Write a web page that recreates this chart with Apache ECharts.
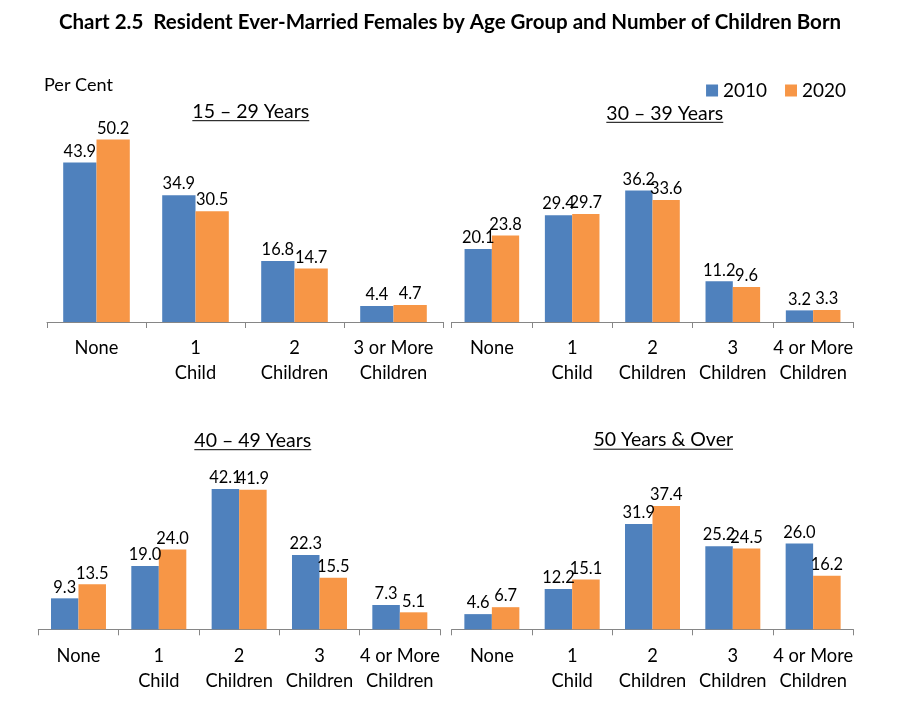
<!DOCTYPE html>
<html><head><meta charset="utf-8">
<script src="https://cdn.jsdelivr.net/npm/echarts@6/dist/echarts.min.js"></script>
<style>html,body{margin:0;padding:0;background:#fff}#c{width:904px;height:706px}</style>
</head><body><div id="c"></div>
<script>
// ---- data ----
const years = ['2010', '2020'];
const cat4 = ['None', '1\nChild', '2\nChildren', '3 or More\nChildren'];
const cat5 = ['None', '1\nChild', '2\nChildren', '3\nChildren', '4 or More\nChildren'];
const panelTitles = ['15 – 29 Years', '30 – 39 Years', '40 – 49 Years', '50 Years & Over'];
const a15_2010 = [43.9, 34.9, 16.8, 4.4];
const a15_2020 = [50.2, 30.5, 14.7, 4.7];
const a30_2010 = [20.1, 29.4, 36.2, 11.2, 3.2];
const a30_2020 = [23.8, 29.7, 33.6, 9.6, 3.3];
const a40_2010 = [9.3, 19.0, 42.1, 22.3, 7.3];
const a40_2020 = [13.5, 24.0, 41.9, 15.5, 5.1];
const a50_2010 = [4.6, 12.2, 31.9, 25.2, 26.0];
const a50_2020 = [6.7, 15.1, 37.4, 24.5, 16.2];

// ---- layout ----
const FONT = 'Lato';
const colors = ['#4F81BD', '#F79646'];
const panels = [
  { cats: cat4, s: [a15_2010, a15_2020], left: 47, top: 104, width: 396, height: 218, max: 60, bw: 33.3, tx: 250.8, ty: 111.7 },
  { cats: cat5, s: [a30_2010, a30_2020], left: 451.7, top: 104, width: 401.6, height: 218, max: 60, bw: 27.3, tx: 664.8, ty: 113.3 },
  { cats: cat5, s: [a40_2010, a40_2020], left: 38.3, top: 462.8, width: 401.7, height: 166.5, max: 50, bw: 27.5, tx: 252.8, ty: 440.7 },
  { cats: cat5, s: [a50_2010, a50_2020], left: 451.7, top: 464.3, width: 401.6, height: 165, max: 50, bw: 27.5, tx: 663.2, ty: 440.2 }
];

const cv = document.createElement('canvas').getContext('2d');
function measure(text, font) { cv.font = font; return cv.measureText(text).width; }
function fitSize(text, weight, target) {
  const w = measure(text, weight + ' 20px ' + FONT);
  return 20 * target / w;
}
const titleText = 'Chart 2.5  Resident Ever-Married Females by Age Group and Number of Children Born';
const titleSize = fitSize(titleText, 'bold', 783);
const subSize = fitSize(panelTitles[0], 'normal', 117);
const labelSize = fitSize('Children', 'normal', 67.5);
const valueSize = fitSize('43.9', 'normal', 32.5);
const perSize = fitSize('Per Cent', 'normal', 69);
const legSize = fitSize('2010', 'normal', 44);

const grid = [], xAxis = [], yAxis = [], series = [], graphic = [];
panels.forEach((p, i) => {
  grid.push({ left: p.left, top: p.top, width: p.width, height: p.height });
  xAxis.push({
    type: 'category', gridIndex: i, data: p.cats,
    axisLine: { show: true, lineStyle: { color: '#868686', width: 1 } },
    axisTick: { show: true, alignWithLabel: false, interval: 0, length: 6, lineStyle: { color: '#868686', width: 1 } },
    axisLabel: { color: '#000', fontFamily: FONT, fontSize: labelSize, lineHeight: 25, margin: 14, interval: 0 }
  });
  yAxis.push({ type: 'value', gridIndex: i, min: 0, max: p.max, show: false, splitLine: { show: false } });
  p.s.forEach((d, k) => {
    series.push({
      type: 'bar', name: years[k], xAxisIndex: i, yAxisIndex: i, data: d,
      barWidth: p.bw, barGap: '0%',
      itemStyle: { color: colors[k] },
      label: { show: true, position: 'top', distance: 3, color: '#000', fontFamily: FONT, fontSize: valueSize,
        formatter: q => q.value.toFixed(1) }
    });
  });
  const w = measure(panelTitles[i], 'normal ' + subSize + 'px ' + FONT);
  graphic.push({
    type: 'text', x: p.tx, y: p.ty,
    style: { text: panelTitles[i], font: 'normal ' + subSize + 'px ' + FONT, fill: '#000', align: 'center', verticalAlign: 'middle' }
  });
  graphic.push({
    type: 'line', shape: { x1: p.tx - w / 2, y1: p.ty + 9, x2: p.tx + w / 2, y2: p.ty + 9 },
    style: { stroke: '#000', lineWidth: 1 }
  });
});
graphic.push({
  type: 'text', x: 450, y: 22.7,
  style: { text: titleText, font: 'bold ' + titleSize + 'px ' + FONT, fill: '#000', align: 'center', verticalAlign: 'middle' }
});
graphic.push({
  type: 'text', x: 44, y: 85,
  style: { text: 'Per Cent', font: 'normal ' + perSize + 'px ' + FONT, fill: '#000', align: 'left', verticalAlign: 'middle' }
});

const chart = echarts.init(document.getElementById('c'), null, { renderer: 'canvas' });
chart.setOption({
  animation: false,
  backgroundColor: '#fff',
  color: colors,
  legend: {
    data: years, right: 53, top: 76, icon: 'rect', itemWidth: 12, itemHeight: 12, itemGap: 18,
    textStyle: { color: '#000', fontFamily: FONT, fontSize: legSize }
  },
  grid, xAxis, yAxis, series, graphic
});
</script>
</body></html>
